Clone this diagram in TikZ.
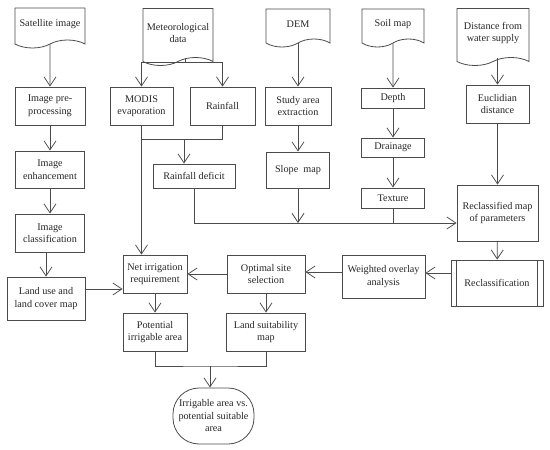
\documentclass[tikz,border=0pt]{standalone}
\usepackage{fontspec}
\setmainfont{Liberation Serif}
\usetikzlibrary{arrows.meta,positioning,calc,shapes.symbols}
\definecolor{linegray}{RGB}{75,75,75}

\begin{document}
\begin{tikzpicture}[x=1pt,y=-1pt, line width=0.8pt, color=linegray,
    every node/.style={font=\fontsize{10.2}{12.5}\selectfont, text=black!85, align=center, inner sep=1pt},
    box/.style={draw=linegray, rectangle},
    doc/.style={draw=linegray, tape, tape bend top=none, tape bend bottom=in and out, tape bend height=8pt},
    term/.style={draw=linegray, rounded corners=26pt},
    arr/.style={-{Straight Barb[length=9pt,width=12pt]}}]
  \useasboundingbox (0,0) rectangle (550,450);

  % input data
  \node[doc, minimum width=70pt, minimum height=40pt] (sat) at (50,24) {Satellite image};
  \node[doc, minimum width=70pt, minimum height=57pt] (met) at (178,33) {Meteorological\\data};
  \node[doc, minimum width=64pt, minimum height=38pt] (dem) at (298,24) {DEM};
  \node[doc, minimum width=62pt, minimum height=38pt] (soil) at (393,24) {Soil map};
  \node[doc, minimum width=72pt, minimum height=57pt] (dist) at (493,33) {Distance from\\water supply};

  % processing steps
  \foreach \n/\x/\y/\w/\h/\t in {
      pre/50/106/70/38/{Image pre-\\processing},
      modis/141.5/106/63/38/{MODIS\\evaporation},
      rain/222.5/106/65/38/{Rainfall},
      study/298/106/66/38/{Study area\\extraction},
      depth/393/98/63/20/{Depth},
      eucl/497.5/104/63/38/{Euclidian\\distance},
      enh/50/169.5/69/37/{Image\\enhancement},
      drain/393/147.5/63/19/{Drainage},
      texture/393/198/63/20/{Texture},
      slope/298/170/63/36/{Slope\ \ map},
      rdef/194/176/82/24/{Rainfall deficit},
      recmap/497.5/213/81/56/{Reclassified map\\of parameters},
      cls/50/233/69/38/{Image\\classification},
      landuse/46/298.5/78/43/{Land use and\\land cover map},
      net/155/274/64/38/{Net irrigation\\requirement},
      opt/266/274/78/38/{Optimal site\\selection},
      wov/383.5/276.5/83/43/{Weighted overlay\\analysis},
      pot/155/332/64/38/{Potential\\irrigable area},
      suit/266/332/79/38/{Land suitability\\map}} {
    \node[box, minimum width=\w pt, minimum height=\h pt] (\n) at (\x,\y) {\t};
  }
  \node[box, minimum width=92pt, minimum height=46pt] (recl) at (497,283) {Reclassification};
  \draw ([xshift=6pt]recl.north west) -- ([xshift=6pt]recl.south west);
  \draw ([xshift=-6pt]recl.north east) -- ([xshift=-6pt]recl.south east);
  \node[term, minimum width=81pt, minimum height=56pt] (fin) at (213.5,416) {Irrigable area vs.\\potential suitable\\area};

  % left column
  \draw[arr] (sat) -- (pre);
  \draw[arr] (pre) -- (enh);
  \draw[arr] (enh) -- (cls);
  \draw[arr] (cls.south -| landuse) -- (landuse);
  \draw[arr] ([yshift=9.5pt]landuse.east) -- ([yshift=9.5pt]landuse.east -| net.west);

  % meteorological data
  \coordinate (metfork) at (185,62);
  \draw (metfork |- met.south) -- (metfork);
  \draw[arr] (metfork) -| (modis);
  \draw[arr] (metfork) -| (rain);
  \draw[arr] (modis.south) -- (modis.south |- net.north);
  \coordinate (rainfork) at (184,139);
  \draw (modis.south |- rainfork) -| (rain.south);
  \draw[arr] (rainfork) -- (rainfork |- rdef.north);

  % DEM, soil and distance
  \draw[arr] (dem) -- (study);
  \draw[arr] (study) -- (slope);
  \draw[arr] (soil) -- (depth);
  \draw[arr] (depth) -- (drain);
  \draw[arr] (drain) -- (texture);
  \draw[arr] (dist.south -| eucl) -- (eucl);
  \draw[arr] (eucl) -- (recmap);

  % parameters
  \coordinate (parin) at ([yshift=-10pt]recmap.west);
  \draw[arr] (rdef.south) |- (parin);
  \draw[arr] (slope) -- (slope |- parin);
  \draw (texture) -- (texture |- parin);

  % overlay and results
  \draw[arr] (recmap) -- (recl);
  \draw[arr] ([yshift=10pt]recl.west) -- ([yshift=10pt]recl.west -| wov.east);
  \draw[arr] ([yshift=4.5pt]wov.west) -- ([yshift=4.5pt]wov.west -| opt.east);
  \draw[arr] (opt) -- (net);
  \draw[arr] (net) -- (pot);
  \draw[arr] (opt) -- (suit);
  \coordinate (finfork) at (210,366);
  \draw (pot.south) |- (finfork) -| (suit.south);
  \draw[arr] (finfork) -- (finfork |- fin.north);
\end{tikzpicture}
\end{document}
